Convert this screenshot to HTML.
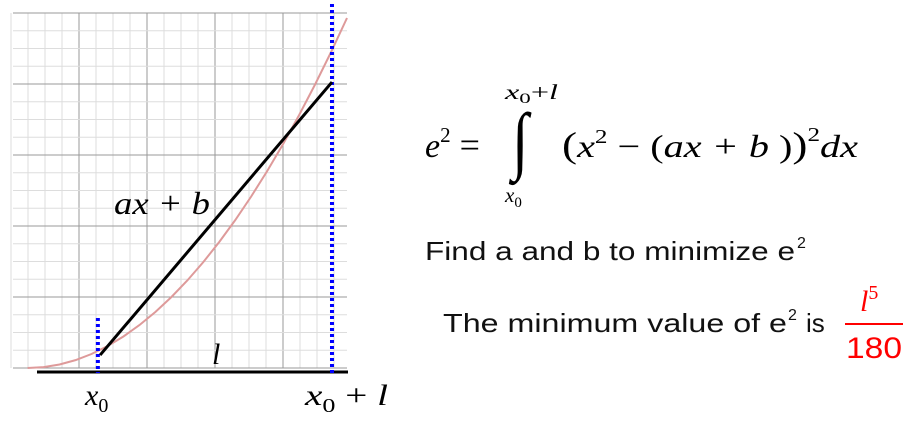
<!DOCTYPE html>
<html><head><meta charset="utf-8"><style>
html,body{margin:0;padding:0;background:#fff;}
svg{display:block;}
.m{font-family:"Liberation Serif","DejaVu Serif",serif;font-style:italic;}
.s{font-family:"Liberation Sans",sans-serif;}
</style></head><body>
<svg width="917" height="421" viewBox="0 0 917 421">
<g id="grid"></g>
<g id="marks"></g>
<g>
<text class="m" x="114" y="214" font-size="32" textLength="96" lengthAdjust="spacingAndGlyphs">ax + b</text>
<text class="m" x="212" y="364" font-size="30">l</text>
<text class="m" x="85" y="405" font-size="30">x<tspan font-style="normal" font-size="20" dy="7">0</tspan></text>
<text class="m" x="305" y="405" font-size="30" textLength="83" lengthAdjust="spacingAndGlyphs">x<tspan font-style="normal" font-size="20" dy="7">0</tspan><tspan dy="-7" font-style="normal"> + </tspan>l</text>
</g>
<g>
<text class="m" x="425" y="157" font-size="34">e<tspan font-style="normal" font-size="21" dy="-15">2</tspan><tspan font-style="normal" font-size="36" dy="15"> =</tspan></text>
<text class="m" x="505" y="99" font-size="21" textLength="53" lengthAdjust="spacingAndGlyphs">x<tspan font-style="normal" font-size="15" dy="4">0</tspan><tspan font-style="normal" dy="-4">+</tspan>l</text>
<text class="m" x="505" y="202" font-size="21">x<tspan font-style="normal" font-size="15" dy="5">0</tspan></text>
<text x="0" y="0" font-size="60" font-family="Liberation Serif,serif" transform="translate(512,165) scale(1,1.25)">∫</text>
<text class="m" x="562" y="157" font-size="32" textLength="296" lengthAdjust="spacingAndGlyphs"><tspan font-style="normal" font-size="36">(</tspan>x<tspan font-style="normal" font-size="20" dy="-14">2</tspan><tspan font-style="normal" dy="14"> − (</tspan>ax + b<tspan font-style="normal"> )</tspan><tspan font-style="normal" font-size="36">)</tspan><tspan font-style="normal" font-size="20" dy="-16">2</tspan><tspan dy="16">dx</tspan></text>
</g>
<g fill="#111">
<text class="s" x="425" y="260" font-size="26" textLength="370" lengthAdjust="spacingAndGlyphs">Find a and b to minimize e</text>
<text class="s" x="797" y="248" font-size="16">2</text>
</g>
<g fill="#111">
<text class="s" x="443" y="332" font-size="26" textLength="344" lengthAdjust="spacingAndGlyphs">The minimum value of e</text>
<text class="s" x="788" y="320" font-size="16">2</text>
<text class="s" x="806" y="332" font-size="26">is</text>
</g>
<g fill="#f00">
<text class="m" x="860" y="311" font-size="30">l<tspan font-style="normal" font-size="20" dy="-12">5</tspan></text>
<rect x="845" y="323" width="58" height="2"/>
<text x="846" y="358" font-size="30" textLength="56" lengthAdjust="spacingAndGlyphs" font-family="Liberation Sans,sans-serif">180</text>
</g>
</svg>
<script>
const curveX=[0,0.05,0.1,0.15,0.2,0.25,0.3,0.35,0.4,0.45,0.5,0.55,0.6,0.65,0.7,0.75,0.8,0.85,0.9,0.95,1.0];
const curveY=[0,0.0025,0.01,0.0225,0.04,0.0625,0.09,0.1225,0.16,0.2025,0.25,0.3025,0.36,0.4225,0.49,0.5625,0.64,0.7225,0.81,0.9025,1.0];
const lineX=[0.227,0.953];
const lineY=[0.037,0.817];
const boundX=[0.22,0.953];
const boundTop=[0.143,1.04];
const NS='http://www.w3.org/2000/svg';
const sx=v=>27.6+v*319.4, sy=v=>368-v*350;
function mk(t,a,p){const e=document.createElementNS(NS,t);for(const k in a)e.setAttribute(k,a[k]);p.appendChild(e);return e;}
const g=document.getElementById('grid');
for(let i=0;i<20;i++){const x=11+i*17;const major=[79,147,215,283].some(m=>Math.abs(m-x)<3);
 const l=mk('line',{x1:x,x2:x,y1:13,y2:368,stroke:major?'#999':'#ddd','stroke-width':1},g);
 
 }
for(let i=0;i<21;i++){const y=13+i*355/20;const major=i%4==0;
 const l=mk('line',{x1:13,x2:347,y1:y,y2:y,stroke:major?'#999':'#ddd','stroke-width':1},g);
 
 }
const m=document.getElementById('marks');
const c=mk('polyline',{points:curveX.map((x,i)=>sx(x)+','+sy(curveY[i])).join(' '),fill:'none',stroke:'#de9a9a','stroke-width':2},m);


const ax=mk('line',{x1:37,x2:348,y1:372,y2:372,stroke:'#000','stroke-width':3},m);


boundX.forEach((b,i)=>{const l=mk('line',{x1:sx(b),x2:sx(b),y1:sy(boundTop[i]),y2:373,stroke:'#00f','stroke-width':4,'stroke-dasharray':'3 3'},m);
 
 });
const ln=mk('line',{x1:sx(lineX[0]),y1:sy(lineY[0]),x2:sx(lineX[1]),y2:sy(lineY[1]),stroke:'#000','stroke-width':3},m);


</script>
</body></html>
